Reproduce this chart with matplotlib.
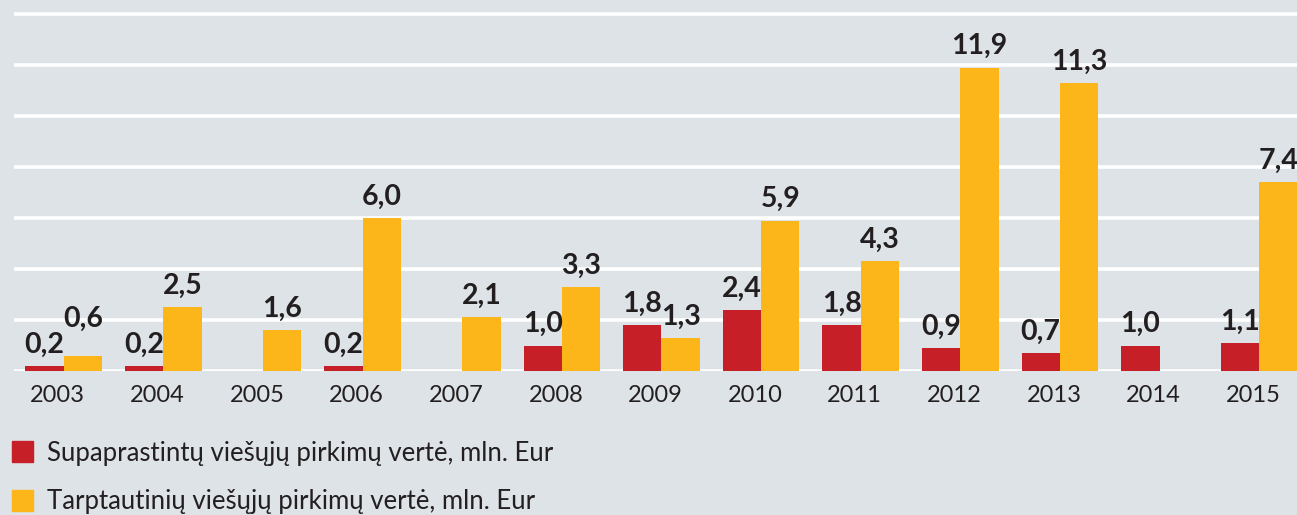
import matplotlib

matplotlib.use("Agg")
import matplotlib.pyplot as plt
import numpy as np
from matplotlib.patches import Rectangle

plt.rcParams["font.family"] = ["Lato", "DejaVu Sans"]

years = ["2003", "2004", "2005", "2006", "2007", "2008", "2009",
         "2010", "2011", "2012", "2013", "2014", "2015"]
simplified = [0.2, 0.2, None, 0.2, None, 1.0, 1.8, 2.4, 1.8, 0.9, 0.7, 1.0, 1.1]
international = [0.6, 2.5, 1.6, 6.0, 2.1, 3.3, 1.3, 5.9, 4.3, 11.9, 11.3, None, 7.4]
legend_labels = ["Supaprastintų viešųjų pirkimų vertė, mln. Eur",
                 "Tarptautinių viešųjų pirkimų vertė, mln. Eur"]

RED = "#c61f28"
YELLOW = "#fcb619"
BG = "#dee3e7"
TXT = "#231f20"

W, H = 1297, 515
fig = plt.figure(figsize=(W / 100, H / 100), dpi=100, facecolor=BG)
ax = fig.add_axes([14 / W, 144 / H, 1 - 14 / W, 371 / H])
ax.set_facecolor(BG)

x = np.arange(len(years))
bw = 0.385


def fmt(v):
    return f"{v:.1f}".replace(".", ",")


for vals, off, col in [(simplified, -bw / 2, RED), (international, bw / 2, YELLOW)]:
    for i, v in enumerate(vals):
        if v is None:
            continue
        ax.bar(x[i] + off, v, width=bw, color=col, zorder=3)
        extra = 0
        if col == YELLOW and years[i] == "2003":
            extra = 11
        ax.annotate(fmt(v), (x[i] + off, v), xytext=(0, 6 + extra),
                    textcoords="offset points", ha="center", va="bottom",
                    fontsize=20.5, fontweight="bold", color=TXT, zorder=4)

ax.set_xlim(-0.5, 12.38)
ax.set_ylim(0, 14.55)
ax.set_yticks(range(0, 15, 2))
ax.grid(axis="y", color="white", linewidth=2.6)
ax.set_axisbelow(True)
ax.tick_params(axis="y", length=0, labelleft=False)
ax.set_xticks(x - 0.06)
ax.set_xticklabels(years, fontsize=17, color=TXT)
ax.tick_params(axis="x", length=0, pad=10)
for s in ax.spines.values():
    s.set_visible(False)

# legend
for k, (lab, col) in enumerate(zip(legend_labels, [RED, YELLOW])):
    ytop = 441 + k * 49
    fig.patches.append(Rectangle((12 / W, 1 - (ytop + 21) / H), 21 / W, 21 / H,
                                 transform=fig.transFigure, color=col))
    fig.text(47 / W, 1 - (ytop + 12) / H, lab, fontsize=18.5, color=TXT,
             va="center", ha="left")

fig.savefig("out.png", dpi=100, facecolor=BG)
